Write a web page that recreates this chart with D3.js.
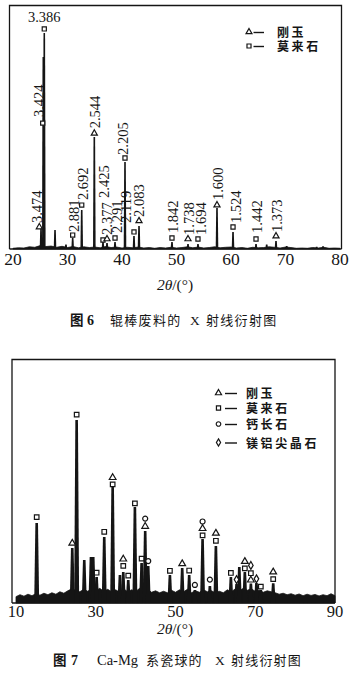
<!DOCTYPE html>
<html><head><meta charset="utf-8">
<script src="https://cdn.jsdelivr.net/npm/d3@7/dist/d3.min.js"></script>
<style>html,body{margin:0;padding:0;background:#fff;} svg{display:block;}</style>
</head><body>
<svg id="chart" width="356" height="677" viewBox="0 0 356 677"></svg>
<script>
// ================= Figure 6 data (roller-bar waste) =================
const f6Ticks = [20, 30, 40, 50, 60, 70, 80];
const f6PeakTheta = [25.14, 25.56, 25.74, 27.71, 29.72, 30.95, 32.61, 34.92, 36.51, 37.25, 38.72, 40.55, 42.2, 43.12, 49.17, 52.11, 53.94, 57.43, 60.37, 64.59, 66.55, 68.26, 70.22, 75.72, 76.88];
const f6PeakInt   = [8.6, 78.7, 88.5, 7.8, 1.8, 4.5, 16.0, 45.9, 2.9, 2.5, 2.9, 35.7, 5.3, 9.4, 2.9, 2.0, 2.0, 16.8, 7.0, 2.0, 1.8, 3.3, 1.2, 0.9, 1.1];
const f6BgInt = [0.3,0.5,0.4,0.9,0.7,1.4,1.0,1.2,0.7,1.1,0.6,1.0,0.5,0.9,0.6,0.8,0.5,1.0,0.6,0.8,0.4,0.7,0.5,0.8,0.4,0.6,0.3,0.6,0.4,0.7,0.4,0.6,0.9,0.5,0.8,0.4,0.6,0.9,0.5,0.7,0.8,0.4,0.6,0.3,0.7,0.5,0.6,0.9,0.7,0.4,0.8,0.6,0.3,0.4,0.3,0.6,0.4,0.7,0.3,0.4,0.3];
const f6AnnoLabel = ['3.474','3.424','3.386','2.881','2.692','2.544','2.425','2.377','2.291','2.205','2.119','2.083','1.842','1.738','1.694','1.600','1.524','1.442','1.373'];
const f6AnnoTheta = [24.83, 25.45, 25.74, 30.95, 32.61, 34.92, 36.51, 37.25, 38.72, 40.55, 42.2, 43.12, 49.17, 52.11, 53.94, 57.43, 60.37, 64.59, 68.26];
const f6AnnoPhase = ['c','m','m','m','m','c','m','c','m','m','m','c','m','c','m','c','m','m','c'];
const f6AnnoLevel = [9.0, 51.6, 90.2, 5.7, 18.0, 47.4, 3.7, 4.1, 4.5, 37.3, 7.0, 11.5, 4.5, 4.1, 4.1, 18.0, 9.0, 4.1, 5.3];
const f6LegendPhase = ['c','m'];
const f6LegendText = ['刚玉','莫来石'];

// ================= Figure 7 data (Ca-Mg ceramic ball) =================
const f7Ticks = [10, 30, 50, 70, 90];
const f7PeakTheta = [15.19, 24.11, 25.21, 27.12, 28.8, 29.37, 30.22, 32.13, 34.24, 36.07, 36.9, 38.15, 39.82, 41.5, 42.4, 43.16, 48.6, 51.68, 53.43, 54.86, 56.79, 58.62, 60.13, 63.89, 65.31, 66.0, 67.39, 68.9, 70.3, 71.4, 74.5];
const f7PeakInt   = [32.8, 22.5, 75.0, 17.6, 18.9, 18.9, 10.7, 27.0, 47.5, 11.5, 12.7, 9.4, 39.3, 16.4, 29.5, 15.2, 11.5, 14.3, 11.5, 5.3, 26.2, 7.0, 23.4, 10.7, 7.8, 14.8, 12.7, 8.0, 8.2, 5.3, 8.1];
const f7BgInt = [2.6,3.4,2.8,3.6,3.0,3.8,3.2,4.0,3.4,4.2,3.6,4.6,4.0,5.0,5.8,5.2,4.6,5.6,4.8,5.9,5.0,6.0,4.8,5.6,4.6,5.4,4.4,5.8,4.6,5.4,4.7,6.0,5.0,5.6,4.4,5.0,4.2,4.8,4.2,5.2,4.4,5.4,4.6,5.6,4.2,5.0,4.4,5.4,4.6,5.0,4.2,4.8,4.2,5.4,4.6,5.8,5.0,6.0,5.2,5.8,4.8,5.2,4.4,5.0,4.6,4.2,3.6,4.0,3.4,3.8,3.2,3.7,3.0,3.6,3.1,3.5,2.9,3.4,3.0,3.8,3.0];
const f7MarkTheta = [15.19, 24.11, 25.21, 30.22, 32.13, 34.24, 34.24, 36.9, 36.9, 38.15, 39.82, 41.5, 42.4, 42.4, 43.16, 48.6, 51.68, 53.43, 54.86, 56.79, 56.79, 56.79, 58.62, 60.13, 60.13, 63.89, 65.31, 67.39, 67.39, 68.9, 68.9, 68.9, 70.3, 71.4, 74.5, 74.5];
const f7MarkPhase = ['m','c','m','m','m','c','m','c','m','m','m','m','a','c','a','m','c','m','a','a','c','m','a','c','m','m','s','c','m','s','m','c','s','m','c','m'];
const f7MarkLevel = [35.2, 24.5, 77.2, 12.4, 29.2, 51.4, 48.6, 18.0, 15.2, 11.2, 40.8, 18.2, 34.6, 31.4, 17.2, 13.2, 16.1, 13.3, 7.4, 33.4, 30.5, 27.7, 9.6, 28.6, 25.5, 12.3, 9.6, 17.0, 14.2, 15.4, 12.2, 9.4, 9.9, 6.7, 12.7, 9.8];
const f7LegendPhase = ['c','m','a','s'];
const f7LegendText = ['刚玉','莫来石','钙长石','镁铝尖晶石'];

// ================= rendering =================
const INK = '#151515';
const SERIF = '"Liberation Serif","Times New Roman",serif';
const CJK = '"Noto Sans CJK SC","Noto Sans CJK JP",sans-serif';
const svg = d3.select('#chart');
const symType = {c: d3.symbolTriangle, m: d3.symbolSquare, a: d3.symbolCircle, s: d3.symbolDiamond};

function marker(g, phase, cx, cy, scale) {
  const size = {c: 17, m: 18, a: 17, s: 16}[phase] * scale;
  g.append('path')
    .attr('d', d3.symbol().type(symType[phase]).size(size)())
    .attr('transform', `translate(${cx},${cy})`)
    .attr('fill', '#fff').attr('stroke', INK).attr('stroke-width', 1.2);
}

function peakPath(x0, yb, yt, wb, wt) {
  return `M${x0 - wb/2},${yb}L${x0 - wt/2},${yt}L${x0 + wt/2},${yt}L${x0 + wb/2},${yb}Z`;
}

function legendText(g, x, y, txt) {
  g.append('text').attr('x', x).attr('y', y).attr('font-family', CJK).attr('font-weight', 700)
    .attr('font-size', 12).attr('letter-spacing', 2.6).attr('fill', INK).text(txt);
}

// ---------- Figure 6 ----------
{
  const x = d3.scaleLinear().domain([20, 80]).range([13, 340]);
  const y = d3.scaleLinear().domain([0, 100]).range([249, 5]);
  const g = svg.append('g');
  const bgTheta = d3.range(20, 81);
  g.append('path').attr('d', 'M9.5,249V5.5H341.5V249').attr('fill', 'none').attr('stroke', INK).attr('stroke-width', 1.3);
  g.append('line').attr('x1', 9.5).attr('x2', 341.5).attr('y1', 249).attr('y2', 249).attr('stroke', INK).attr('stroke-width', 1.3);
  g.append('path')
    .datum(bgTheta.map((t, i) => [t, f6BgInt[i]]))
    .attr('d', d3.area().x(d => x(d[0])).y0(y(0)).y1(d => y(d[1])))
    .attr('fill', INK).attr('stroke', INK).attr('stroke-width', 0.8);
  g.selectAll('path.pk').data(f6PeakTheta).join('path').attr('class', 'pk')
    .attr('d', (t, i) => peakPath(x(t), y(0), y(f6PeakInt[i]), 2.6, 1.6))
    .attr('fill', INK);
  g.selectAll('text.tk').data(f6Ticks).join('text').attr('class', 'tk')
    .attr('x', d => x(d)).attr('y', 264.5).attr('text-anchor', 'middle')
    .attr('font-family', SERIF).attr('font-size', 17.5).attr('fill', INK).text(d => d);
  const labDx  = {'3.474': -2, '3.424': -4, '2.425': 1, '2.377': 0, '2.291': 2, '2.205': -2, '2.119': -8, '2.083': 0, '1.694': 3, '1.524': 3};
  const labGap = {'3.474': 4, '3.424': 6, '2.881': 3, '2.425': 42, '2.377': 4, '2.205': 3, '2.119': 9, '2.083': 4, '1.738': 4, '1.694': 4, '1.524': 4, '1.442': 6, '1.373': 4};
  f6AnnoTheta.forEach((t, i) => {
    const cx = x(t), cy = y(f6AnnoLevel[i]);
    marker(g, f6AnnoPhase[i], cx, cy, 0.95);
    const lab = f6AnnoLabel[i];
    if (lab === '3.386') {
      g.append('text').attr('x', cx).attr('y', cy - 7).attr('text-anchor', 'middle')
        .attr('font-family', SERIF).attr('font-size', 14.5).attr('fill', INK).text(lab);
    } else {
      const lx = cx + (labDx[lab] ?? 1), ly = cy - (labGap[lab] ?? 5);
      g.append('text').attr('transform', `translate(${lx},${ly}) rotate(-90)`)
        .attr('dy', '0.35em').attr('text-anchor', 'start')
        .attr('font-family', SERIF).attr('font-size', 14.5).attr('fill', INK).text(lab);
    }
  });
  const ly = [32, 46];
  f6LegendPhase.forEach((p, i) => {
    marker(g, p, 249, ly[i], 0.9);
    g.append('line').attr('x1', 253.5).attr('x2', 264).attr('y1', ly[i] + 0.5).attr('y2', ly[i] + 0.5).attr('stroke', INK).attr('stroke-width', 1.4);
    legendText(g, 277, ly[i] + 5, f6LegendText[i]);
  });
  const at = g.append('text').attr('x', 175).attr('y', 289.5).attr('text-anchor', 'middle')
    .attr('font-family', SERIF).attr('font-size', 15.5).attr('fill', INK);
  at.append('tspan').attr('font-style', 'italic').text('2θ');
  at.append('tspan').text('/(°)');
  const cap = [[70, '图', 700, 13.5, CJK], [87, '6', 700, 14, SERIF], [110, '辊棒废料的', 400, 13, CJK], [190, 'X', 400, 13.5, SERIF], [206, '射线衍射图', 400, 13, CJK]];
  cap.forEach(c => {
    const tx = g.append('text').attr('x', c[0]).attr('y', 325).attr('font-family', c[4]).attr('font-weight', c[2])
      .attr('font-size', c[3]).attr('fill', INK).text(c[1]);
    if (c[1].length === 5) tx.attr('letter-spacing', 1.3);
  });
}

// ---------- Figure 7 ----------
{
  const x = d3.scaleLinear().domain([10, 90]).range([16, 335]);
  const y = d3.scaleLinear().domain([0, 100]).range([603, 359]);
  const g = svg.append('g');
  const bgTheta = d3.range(10, 91);
  g.append('path').attr('d', 'M12,603V359.5H335V603').attr('fill', 'none').attr('stroke', INK).attr('stroke-width', 1.3);
  g.append('line').attr('x1', 12).attr('x2', 335).attr('y1', 603).attr('y2', 603).attr('stroke', INK).attr('stroke-width', 1.5);
  g.append('path')
    .datum(bgTheta.map((t, i) => [t, f7BgInt[i]]))
    .attr('d', d3.area().x(d => x(d[0])).y0(y(0)).y1(d => y(d[1])))
    .attr('fill', INK).attr('stroke', INK).attr('stroke-width', 0.8);
  g.selectAll('path.pk').data(f7PeakTheta).join('path').attr('class', 'pk')
    .attr('d', (t, i) => peakPath(x(t), y(0), y(f7PeakInt[i]), 5, 2.6))
    .attr('fill', INK);
  f7MarkTheta.forEach((t, i) => marker(g, f7MarkPhase[i], x(t), y(f7MarkLevel[i]), 1.15));
  g.selectAll('text.tk').data(f7Ticks).join('text').attr('class', 'tk')
    .attr('x', d => x(d)).attr('y', 617).attr('text-anchor', 'middle')
    .attr('font-family', SERIF).attr('font-size', 16.5).attr('fill', INK).text(d => d);
  const ly = [393, 408, 424, 442.5];
  f7LegendPhase.forEach((p, i) => {
    marker(g, p, 218.5, ly[i], 0.95);
    g.append('line').attr('x1', 225).attr('x2', 237).attr('y1', ly[i] + 0.5).attr('y2', ly[i] + 0.5).attr('stroke', INK).attr('stroke-width', 1.4);
    legendText(g, 246, ly[i] + 5, f7LegendText[i]);
  });
  const at = g.append('text').attr('x', 175).attr('y', 634).attr('text-anchor', 'middle')
    .attr('font-family', SERIF).attr('font-size', 15.5).attr('fill', INK);
  at.append('tspan').attr('font-style', 'italic').text('2θ');
  at.append('tspan').text('/(°)');
  const cap = [[53, '图', 700, 13.5, CJK], [71, '7', 700, 14, SERIF], [97, 'Ca-Mg', 400, 14.5, SERIF], [146, '系瓷球的', 400, 13, CJK], [215, 'X', 400, 13.5, SERIF], [231, '射线衍射图', 400, 13, CJK]];
  cap.forEach(c => {
    const tx = g.append('text').attr('x', c[0]).attr('y', 665).attr('font-family', c[4]).attr('font-weight', c[2])
      .attr('font-size', c[3]).attr('fill', INK).text(c[1]);
    if (/[\u4e00-\u9fff]{4,}/.test(c[1])) tx.attr('letter-spacing', 1.2);
  });
}
</script>
</body></html>
